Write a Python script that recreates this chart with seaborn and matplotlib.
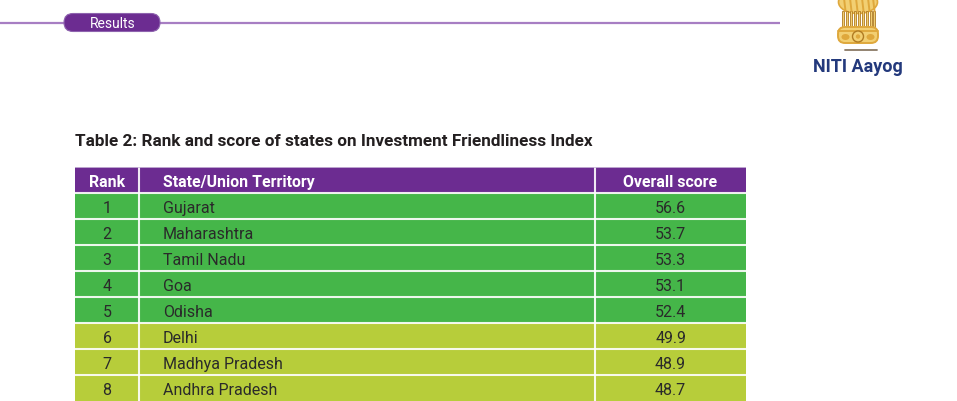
import matplotlib
matplotlib.use("Agg")
import matplotlib.pyplot as plt
import seaborn as sns
import pandas as pd
from matplotlib.patches import FancyBboxPatch, Ellipse, Circle, Rectangle

# ---------------- data ----------------
section_label = "Results"
title = "Table 2: Rank and score of states on Investment Friendliness Index"
columns = ["Rank", "State/Union Territory", "Overall score"]
ranks = [1, 2, 3, 4, 5, 6, 7, 8]
states = ["Gujarat", "Maharashtra", "Tamil Nadu", "Goa", "Odisha",
          "Delhi", "Madhya Pradesh", "Andhra Pradesh"]
scores = [56.6, 53.7, 53.3, 53.1, 52.4, 49.9, 48.9, 48.7]
tiers = ["top", "top", "top", "top", "top", "mid", "mid", "mid"]
brand = "NITI Aayog"

# ---------------- style ----------------
PURPLE = "#6C2C91"
LINE_PURPLE = "#A77EC3"
TIER_COLORS = {"top": "#45B649", "mid": "#B7CD3A"}
TEXT = "#2A2A2A"
NAVY = "#23397C"
FONT = ["Roboto", "DejaVu Sans"]

sns.set_theme(style="white")
plt.rcParams["font.family"] = FONT

W, H = 957, 402
fig = plt.figure(figsize=(W / 100, H / 100), dpi=100)
fig.patch.set_facecolor("white")

# background axes in pixel coordinates (y downward)
bg = fig.add_axes([0, 0, 1, 1])
bg.set_xlim(0, W)
bg.set_ylim(H, 0)
bg.axis("off")

# top rule and section pill
bg.plot([0, 780], [23.5, 23.5], color=LINE_PURPLE, lw=1.6, solid_capstyle="butt", zorder=1)
pill = FancyBboxPatch((64 + 9, 23.5), 96 - 18, 0.001,
                      boxstyle="round,pad=9,rounding_size=9",
                      fc=PURPLE, ec="#8E63AE", lw=0.8, zorder=2)
bg.add_patch(pill)
bg.text(112.5, 23.5, section_label, ha="center", va="center", color="white",
        fontsize=10, zorder=3)

# title
bg.text(75, 146, title, ha="left", va="baseline", color="#231F20",
        fontsize=12.3, fontweight="bold")

# simplified emblem
gold, dgold, lgold = "#DFA83C", "#B07B22", "#F2CF72"
bg.add_patch(Ellipse((858, 3), 39, 23, fc=lgold, ec=gold, lw=1.2, zorder=2))
for hx in [844, 850, 856, 862, 868, 873]:
    bg.plot([hx, hx + 1.5], [-1, 12], color=gold, lw=1.4, zorder=3)
for lx in [843, 847, 851, 855, 859, 863, 867, 871, 874]:
    bg.add_patch(Rectangle((lx - 1.0, 12), 2.0, 16, fc=lgold, ec=dgold, lw=0.6, zorder=2))
bg.add_patch(FancyBboxPatch((838, 28), 40, 16, boxstyle="round,pad=0,rounding_size=7",
                            fc=lgold, ec=gold, lw=1.4, zorder=2))
bg.plot([838, 878], [32, 32], color=gold, lw=1.4, zorder=3)
bg.add_patch(Circle((858, 37.5), 5.5, fc=lgold, ec=dgold, lw=1.0, zorder=4))
bg.add_patch(Circle((858, 37.5), 2.2, fc=gold, ec="none", zorder=5))
bg.add_patch(Ellipse((845.5, 38), 8, 6, fc=gold, ec="none", zorder=4))
bg.add_patch(Ellipse((870.5, 38), 8, 6, fc=gold, ec="none", zorder=4))
bg.plot([845, 877], [50.5, 50.5], color="#8A7A66", lw=1.3)

bg.text(858, 72, brand, ha="center", va="baseline", color=NAVY,
        fontsize=13, fontweight="bold")

# ---------------- table ----------------
tl, tr, ttop = 75, 746, 168
row_h = 26
n_rows = len(ranks) + 1
tab = fig.add_axes([tl / W, 1 - (ttop + n_rows * row_h) / H,
                    (tr - tl) / W, n_rows * row_h / H])
tw = tr - tl

band_labels = ["header"] + [f"row{r}" for r in ranks]
band_colors = [PURPLE] + [TIER_COLORS[t] for t in tiers]
df = pd.DataFrame({"band": band_labels, "width": [tw] * n_rows})
sns.barplot(data=df, x="width", y="band", hue="band", order=band_labels,
            hue_order=band_labels, palette=band_colors, orient="h",
            width=1.0, linewidth=0, legend=False, ax=tab, saturation=1)
tab.set_xlim(0, tw)
tab.set_ylim(n_rows - 0.5, -0.5)
tab.axis("off")

# column boundaries (relative to table left)
col_b = [139 - tl, 595 - tl]
for x in col_b:
    tab.plot([x, x], [-0.5, n_rows - 0.5], color="white", lw=1.5, alpha=0.9, zorder=3)
for i in range(n_rows - 1):
    tab.plot([0, tw], [i + 0.5, i + 0.5], color="white", lw=1.5, alpha=0.9, zorder=3)
tab.plot([0, tw], [-0.5, -0.5], color="#CDBCDB", lw=1.2, zorder=4)

rank_cx = (tl + 139) / 2 - tl
state_x = 163 - tl
score_cx = (595 + tr) / 2 - tl
off = 0.225

hdr_kw = dict(va="baseline", color="white", fontsize=11.4, fontweight="bold", zorder=5)
tab.text(rank_cx, 0 + off, columns[0], ha="center", **hdr_kw)
tab.text(state_x, 0 + off, columns[1], ha="left", **hdr_kw)
tab.text(score_cx, 0 + off, columns[2], ha="center", **hdr_kw)

for i, (r, s, v) in enumerate(zip(ranks, states, scores), start=1):
    kw = dict(va="baseline", color=TEXT, fontsize=11.5, zorder=5)
    tab.text(rank_cx, i + off, str(r), ha="center", **kw)
    tab.text(state_x, i + off, s, ha="left", **kw)
    tab.text(score_cx, i + off, f"{v:.1f}", ha="center", **kw)

fig.savefig("out.png", dpi=100, facecolor="white")
